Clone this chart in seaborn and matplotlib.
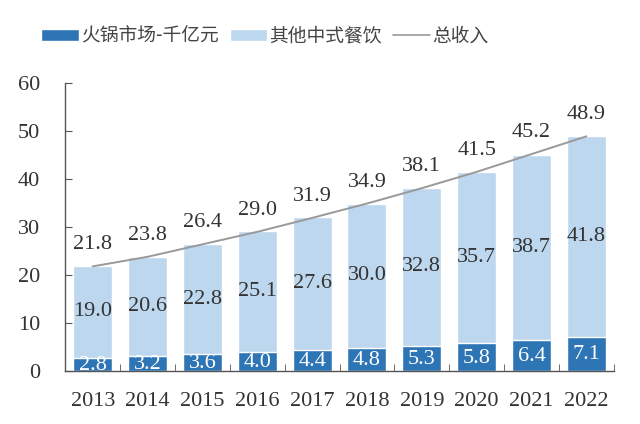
import numpy as np
import pandas as pd
import matplotlib
matplotlib.use('Agg')
import matplotlib.pyplot as plt
import seaborn as sns
from matplotlib.patches import Patch
from matplotlib.lines import Line2D
from matplotlib.ticker import FixedLocator

years = ['2013', '2014', '2015', '2016', '2017', '2018', '2019', '2020', '2021', '2022']
hotpot = [2.8, 3.2, 3.6, 4.0, 4.4, 4.8, 5.3, 5.8, 6.4, 7.1]
other = [19.0, 20.6, 22.8, 25.1, 27.6, 30.0, 32.8, 35.7, 38.7, 41.8]
total = [21.8, 23.8, 26.4, 29.0, 31.9, 34.9, 38.1, 41.5, 45.2, 48.9]

dark = '#2e75b6'
light = '#bdd7ee'
txt = '#333333'

df = pd.DataFrame({'year': years, 'hotpot': hotpot, 'other': other, 'total': total})
df['stack'] = df['hotpot'] + df['other']

sns.set_style('white')
plt.rcParams['font.family'] = ['Liberation Serif', 'Noto Sans CJK SC']

fig, ax = plt.subplots(figsize=(6.4, 4.24), dpi=100)
fig.subplots_adjust(left=0.102, right=0.959, top=0.804, bottom=0.125)

sns.barplot(data=df, x='year', y='stack', color=light, width=0.71, saturation=1, ax=ax)
sns.barplot(data=df, x='year', y='hotpot', color=dark, width=0.71, saturation=1, ax=ax)
sns.lineplot(x=np.arange(len(years)), y=df['total'], color='#999999', lw=1.4, ax=ax)

fs = 16
for i in range(len(years)):
    ax.text(i, df['hotpot'][i] / 2 - 0.2, f'{hotpot[i]:.1f}', ha='center', va='center',
            color='white', fontsize=fs)
    ax.text(i, df['hotpot'][i] + df['other'][i] / 2, f'{other[i]:.1f}', ha='center',
            va='center', color=txt, fontsize=fs)
    ax.text(i, df['total'][i] + 2.5, f'{total[i]:.1f}', ha='center', va='bottom',
            color=txt, fontsize=fs)

ax.set_xlim(-0.5, len(years) - 0.5)
ax.set_ylim(0, 60)
ax.set_yticks(range(0, 61, 10))
ax.set_xlabel('')
ax.set_ylabel('')
ax.xaxis.set_minor_locator(FixedLocator(np.arange(-0.5, len(years), 1)))
ax.tick_params(axis='x', which='major', length=0, labelsize=fs, labelcolor=txt, pad=15)
ax.tick_params(axis='x', which='minor', direction='in', length=5, color='#555555', bottom=True)
ax.tick_params(axis='y', direction='in', length=5, color='#555555', labelsize=fs,
               labelcolor=txt, left=True, pad=18)
for s in ['top', 'right']:
    ax.spines[s].set_visible(False)
for s in ['left', 'bottom']:
    ax.spines[s].set_color('#555555')
    ax.spines[s].set_linewidth(1.0)

handles = [Patch(facecolor=dark, label='火锅市场-千亿元'),
           Patch(facecolor=light, label='其他中式餐饮'),
           Line2D([0], [0], color='#999999', lw=1.2, label='总收入')]
fig.legend(handles=handles, loc='center', bbox_to_anchor=(0.414, 0.915), ncol=3, frameon=False,
           prop={'family': 'Noto Sans CJK SC', 'size': 13.5}, labelcolor='#444444',
           handlelength=2.0, handleheight=0.55, handletextpad=0.1, columnspacing=0.6)

fig.savefig('out.png', dpi=100)
